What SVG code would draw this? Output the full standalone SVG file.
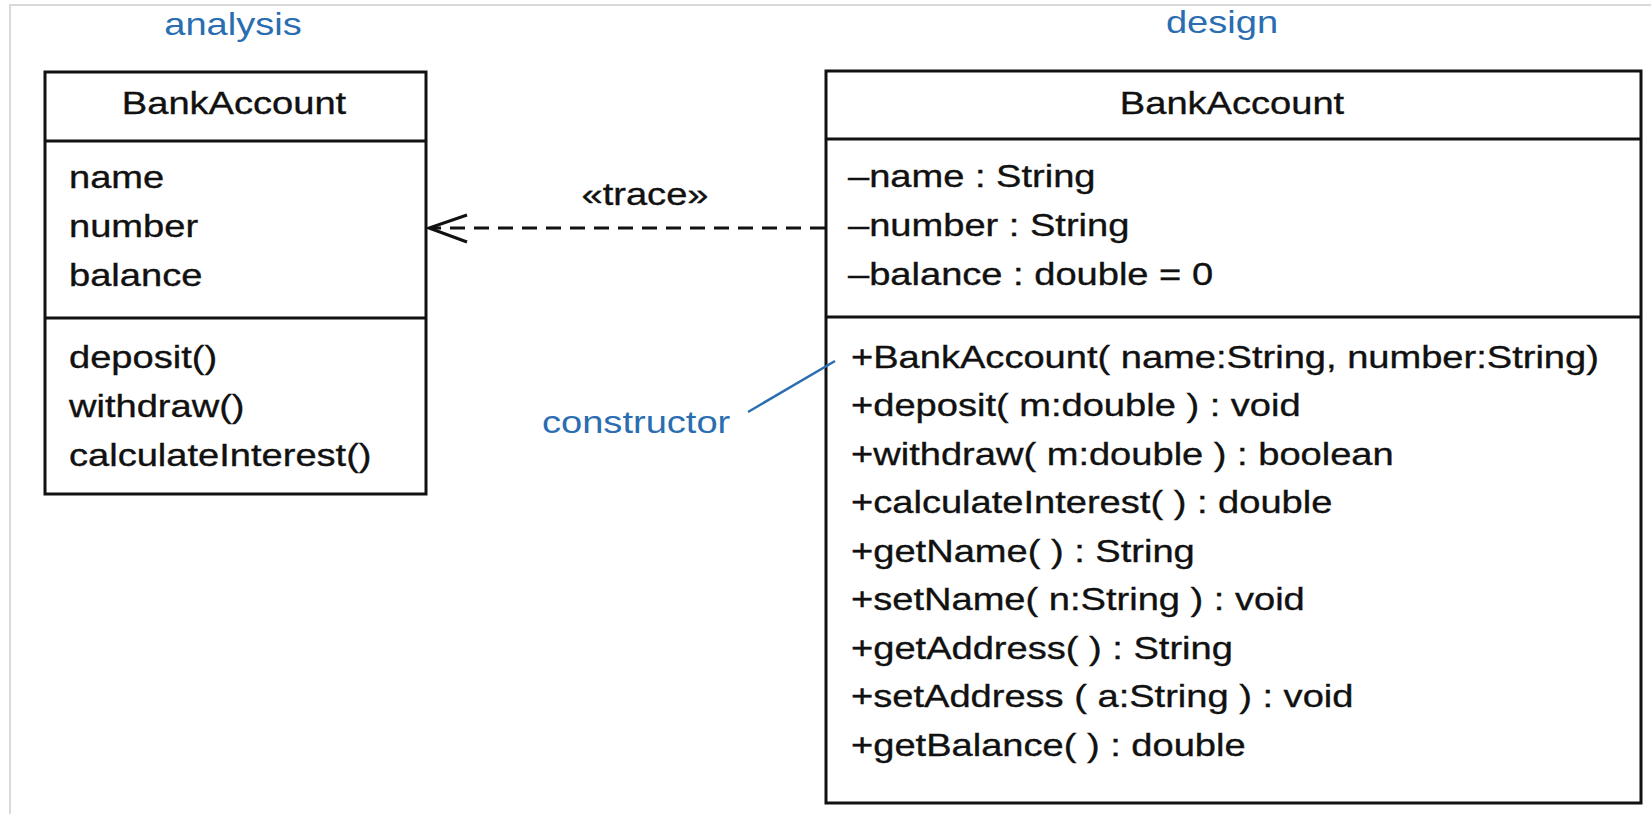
<svg xmlns="http://www.w3.org/2000/svg" width="1651" height="814" viewBox="0 0 1651 814">
<style>
.t{font-family:"Liberation Sans",Arial,Helvetica,sans-serif;font-size:32px;fill:#111;stroke:#111;stroke-width:0.35}
.lbl{font-family:"Liberation Sans",Arial,Helvetica,sans-serif;font-size:32px;fill:#2a6db0}
.box{fill:#fff;stroke:#111;stroke-width:3}
.div{stroke:#111;stroke-width:3}
</style>
<rect x="0" y="0" width="1651" height="814" fill="#fff"/>
<path d="M10 820 V5 H1660" fill="none" stroke="#d9d9d9" stroke-width="2"/>
<g id="labels">
<text class="lbl" text-anchor="middle" transform="translate(233,35) scale(1.19,1)">analysis</text>
<text class="lbl" text-anchor="middle" transform="translate(1222,33) scale(1.19,1)">design</text>
</g>
<g id="analysis-class">
<rect class="box" x="45" y="72" width="381" height="422"/>
<line class="div" x1="45" y1="141" x2="426" y2="141"/>
<line class="div" x1="45" y1="318" x2="426" y2="318"/>
<text class="t" text-anchor="middle" transform="translate(234,114) scale(1.19,1)">BankAccount</text>
<g transform="translate(69,0) scale(1.19,1)">
<text class="t" x="0" y="188">name</text>
<text class="t" x="0" y="237">number</text>
<text class="t" x="0" y="286">balance</text>
<text class="t" x="0" y="368">deposit()</text>
<text class="t" x="0" y="417">withdraw()</text>
<text class="t" x="0" y="466">calculateInterest()</text>
</g>
</g>
<g id="design-class">
<rect class="box" x="826" y="71" width="815" height="732"/>
<line class="div" x1="826" y1="139" x2="1641" y2="139"/>
<line class="div" x1="826" y1="317" x2="1641" y2="317"/>
<text class="t" text-anchor="middle" transform="translate(1232,114) scale(1.19,1)">BankAccount</text>
<g transform="translate(848,0) scale(1.19,1)">
<text class="t" x="0" y="187">–name : String</text>
<text class="t" x="0" y="236">–number : String</text>
<text class="t" x="0" y="285">–balance : double = 0</text>
</g>
<g transform="translate(851,0) scale(1.19,1)">
<text class="t" x="0" y="368">+BankAccount( name:String, number:String)</text>
<text class="t" x="0" y="416.5">+deposit( m:double ) : void</text>
<text class="t" x="0" y="465">+withdraw( m:double ) : boolean</text>
<text class="t" x="0" y="513.5">+calculateInterest( ) : double</text>
<text class="t" x="0" y="562">+getName( ) : String</text>
<text class="t" x="0" y="610.5">+setName( n:String ) : void</text>
<text class="t" x="0" y="659">+getAddress( ) : String</text>
<text class="t" x="0" y="707.5">+setAddress ( a:String ) : void</text>
<text class="t" x="0" y="756">+getBalance( ) : double</text>
</g>
</g>
<g id="connectors">
<line x1="825" y1="228" x2="430" y2="228" stroke="#111" stroke-width="3" stroke-dasharray="15 9"/>
<polyline points="467,215 429,228 467,242" fill="none" stroke="#111" stroke-width="3"/>
<text class="t" text-anchor="middle" transform="translate(645,205) scale(1.19,1)">«trace»</text>
<line x1="748" y1="412" x2="835" y2="361" stroke="#2a6db0" stroke-width="2.5"/>
<text class="lbl" transform="translate(542,433) scale(1.19,1)">constructor</text>
</g>
</svg>
